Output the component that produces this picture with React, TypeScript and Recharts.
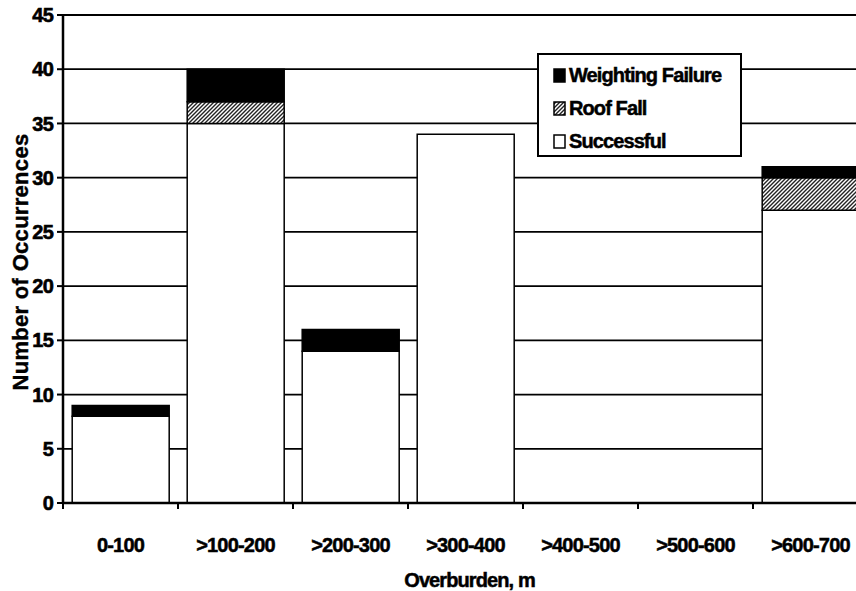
import React from "react";
import { Bar, BarChart, CartesianGrid, Label, Legend, XAxis, YAxis } from "recharts";

const categories = ["0-100", ">100-200", ">200-300", ">300-400", ">400-500", ">500-600", ">600-700"];
const successful = [8, 35, 14, 34, 0, 0, 27];
const roofFall = [0, 2, 0, 0, 0, 0, 3];
const weighting = [1, 3, 2, 0, 0, 0, 1];
const yTicks = [0, 5, 10, 15, 20, 25, 30, 35, 40, 45];
const legendOrder = ["Weighting Failure", "Roof Fall", "Successful"];

const data = categories.map((c, i) => ({
  range: c,
  successful: successful[i],
  roofFall: roofFall[i],
  weighting: weighting[i],
}));

const FONT = "'Liberation Sans', Arial, Helvetica, sans-serif";

// tick labels plus Excel-style tick marks on the category boundaries
function RangeTick(props: any) {
  const { x, y, payload, index, visibleTicksCount, width } = props;
  const half =
    payload && typeof payload.offset === "number" && payload.offset > 0
      ? payload.offset
      : width && visibleTicksCount
      ? width / visibleTicksCount / 2
      : 57.5;
  const last = index === visibleTicksCount - 1;
  return (
    <g>
      <line x1={x - half} x2={x - half} y1={y} y2={y + 6} stroke="#000" strokeWidth={2} />
      {last && <line x1={x + half} x2={x + half} y1={y} y2={y + 6} stroke="#000" strokeWidth={2} />}
      <text
        x={x}
        y={y + 49}
        textAnchor="middle"
        fontFamily={FONT}
        fontWeight="bold"
        fontSize={20}
        letterSpacing={-0.8}
        fill="#000"
        stroke="#000"
        strokeWidth={0.5}
      >
        {payload.value}
      </text>
    </g>
  );
}

function LegendBox({ payload }: any) {
  const items = [...(payload || [])].sort(
    (a: any, b: any) => legendOrder.indexOf(a.value) - legendOrder.indexOf(b.value)
  );
  return (
    <div style={{ padding: "4px 0 0 14px" }}>
      {items.map((it: any) => (
        <div key={it.value} style={{ height: 33, display: "flex", alignItems: "center" }}>
          <svg width={15} height={16} style={{ marginRight: 1 }}>
            <rect x={1} y={1} width={11} height={13} fill={it.color} stroke="#000" strokeWidth={1.5} />
          </svg>
          <span
            style={{
              fontFamily: FONT,
              fontWeight: "bold",
              fontSize: 20,
              letterSpacing: -0.9,
              color: "#000",
              WebkitTextStroke: "0.5px #000",
            }}
          >
            {it.value}
          </span>
        </div>
      ))}
    </div>
  );
}

export default function App() {
  return (
    <div
      style={{
        position: "absolute",
        left: 0,
        top: 0,
        width: 856,
        height: 591,
        overflow: "hidden",
        background: "#fff",
      }}
    >
      <BarChart
        width={868}
        height={591}
        data={data}
        margin={{ top: 15, right: 0, bottom: 0, left: 0 }}
        barCategoryGap="8%"
      >
        <defs>
          <pattern id="hatch" width={4} height={4} patternUnits="userSpaceOnUse">
            <rect width={4} height={4} fill="#fff" />
            <path d="M-1,1 L1,-1 M0,4 L4,0 M3,5 L5,3" stroke="#222" strokeWidth={1.4} />
          </pattern>
        </defs>
        <CartesianGrid vertical={false} stroke="#000" strokeWidth={1.8} />
        <XAxis
          dataKey="range"
          height={88}
          axisLine={{ stroke: "#000", strokeWidth: 2.5 }}
          tickLine={false}
          tickSize={0}
          tickMargin={0}
          interval={0}
          tick={<RangeTick />}
        >
          <Label
            content={({ viewBox }: any) => (
              <text
                x={viewBox.x + viewBox.width / 2 + 4}
                y={viewBox.y + 84}
                textAnchor="middle"
                fontFamily={FONT}
                fontWeight="bold"
                fontSize={20}
                letterSpacing={-0.9}
                fill="#000"
                stroke="#000"
                strokeWidth={0.5}
              >
                Overburden, m
              </text>
            )}
          />
        </XAxis>
        <YAxis
          width={63}
          domain={[0, 45]}
          ticks={yTicks}
          interval={0}
          axisLine={{ stroke: "#000", strokeWidth: 2.5 }}
          tickLine={{ stroke: "#000", strokeWidth: 2 }}
          tickSize={6}
          tickMargin={4}
          tick={{
            fontFamily: FONT,
            fontWeight: "bold",
            fontSize: 20,
            fill: "#000",
            stroke: "#000",
            strokeWidth: 0.6,
            letterSpacing: -0.8,
          }}
        >
          <Label
            content={({ viewBox }: any) => {
              const cx = 20;
              const cy = viewBox.y + viewBox.height / 2 + 3;
              return (
                <text
                  x={cx}
                  y={cy}
                  transform={`rotate(-90 ${cx} ${cy})`}
                  textAnchor="middle"
                  dominantBaseline="central"
                  fontFamily={FONT}
                  fontWeight="bold"
                  fontSize={22}
                  letterSpacing={0.3}
                  fill="#000"
                  stroke="#000"
                  strokeWidth={0.4}
                >
                  Number of Occurrences
                </text>
              );
            }}
          />
        </YAxis>
        <Legend
          layout="vertical"
          align="center"
          verticalAlign="middle"
          content={<LegendBox />}
          wrapperStyle={{
            position: "absolute",
            left: 537,
            top: 53,
            width: 205,
            height: 104,
            border: "2px solid #000",
            background: "#fff",
            boxSizing: "border-box",
          }}
        />
        <Bar
          dataKey="successful"
          name="Successful"
          stackId="a"
          fill="#fff"
          stroke="#000"
          strokeWidth={1.5}
          isAnimationActive={false}
        />
        <Bar
          dataKey="roofFall"
          name="Roof Fall"
          stackId="a"
          fill="url(#hatch)"
          stroke="#000"
          strokeWidth={1.5}
          isAnimationActive={false}
        />
        <Bar
          dataKey="weighting"
          name="Weighting Failure"
          stackId="a"
          fill="#000"
          stroke="#000"
          strokeWidth={1.5}
          isAnimationActive={false}
        />
      </BarChart>
    </div>
  );
}
